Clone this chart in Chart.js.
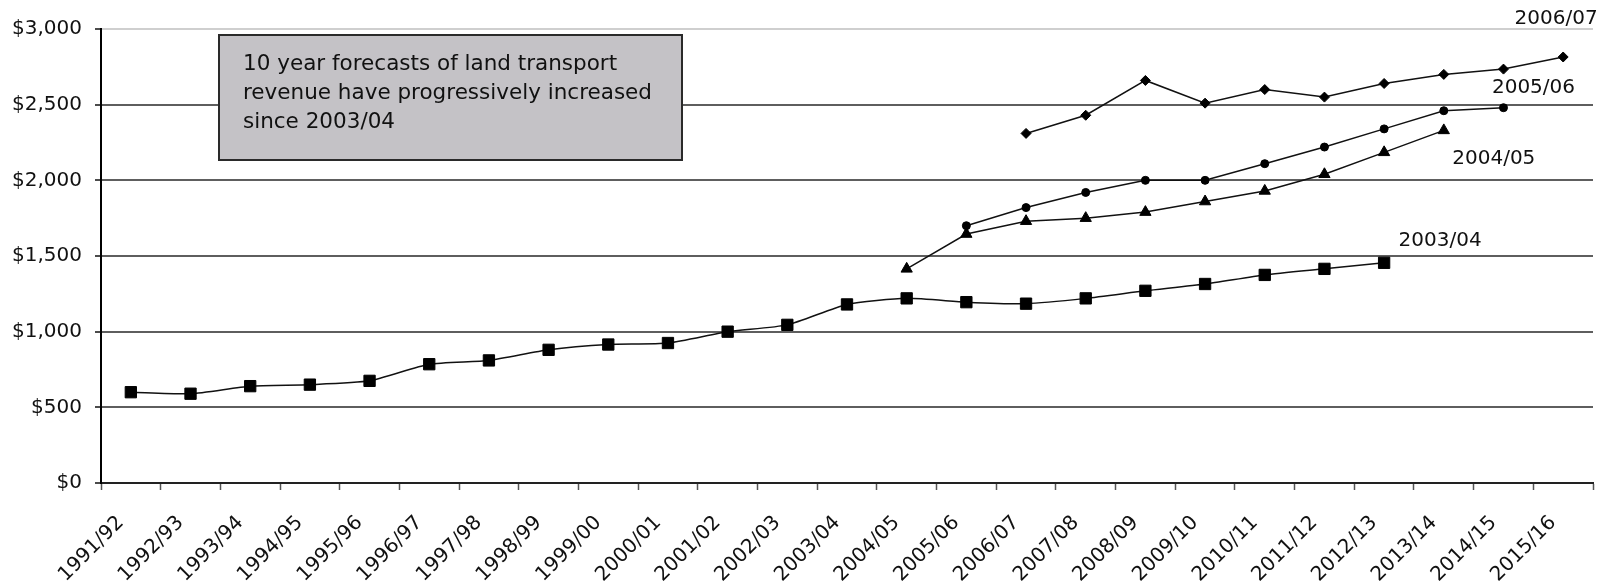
<!DOCTYPE html>
<html>
<head>
<meta charset="utf-8">
<script src="https://cdn.jsdelivr.net/npm/chart.js@4.4.1/dist/chart.umd.min.js"></script>
<style>
  html, body { margin: 0; padding: 0; background: #fff; }
  canvas { display: block; }
</style>
</head>
<body>
<canvas id="revenue" width="1602" height="584"></canvas>
<script>
const years = [
  '1991/92', '1992/93', '1993/94', '1994/95', '1995/96', '1996/97', '1997/98',
  '1998/99', '1999/00', '2000/01', '2001/02', '2002/03', '2003/04', '2004/05',
  '2005/06', '2006/07', '2007/08', '2008/09', '2009/10', '2010/11', '2011/12',
  '2012/13', '2013/14', '2014/15', '2015/16'
];

// actuals to 2003/04 then the 2003/04 forecast
const forecast0304 = [600, 590, 640, 650, 675, 785, 810, 880, 915, 925, 1000,
  1045, 1180, 1220, 1195, 1185, 1220, 1270, 1315, 1375, 1415, 1455];
const forecast0405 = [1415, 1645, 1730, 1750, 1790, 1860, 1930, 2040, 2185, 2330];
const forecast0506 = [1700, 1820, 1920, 2000, 2000, 2110, 2220, 2340, 2460, 2480];
const forecast0607 = [2310, 2430, 2660, 2510, 2600, 2550, 2640, 2700, 2735, 2815];

const yTicks = [0, 500, 1000, 1500, 2000, 2500, 3000];

const noteLines = [
  '10 year forecasts of land transport',
  'revenue have progressively increased',
  'since 2003/04'
];

// put a series on the year axis starting at its first year
function fromYear(first, values) {
  const start = years.indexOf(first);
  return years.map((_, i) => (i >= start && i < start + values.length) ? values[i - start] : null);
}

const INK = '#111';
const FONT = 'DejaVu Sans';

// label beside the last point of each series
const endLabels = {
  '2003/04': { dx: 56, dy: -22 },
  '2004/05': { dx: 50, dy: 28 },
  '2005/06': { dx: 30, dy: -20 },
  '2006/07': { dx: -7, dy: -38 }
};

const seriesLabels = {
  id: 'seriesLabels',
  afterDatasetsDraw(chart) {
    const ctx = chart.ctx;
    ctx.save();
    ctx.font = '20px "' + FONT + '"';
    ctx.fillStyle = INK;
    ctx.textAlign = 'center';
    ctx.textBaseline = 'middle';
    chart.data.datasets.forEach((ds, i) => {
      const meta = chart.getDatasetMeta(i);
      let last = -1;
      ds.data.forEach((v, j) => { if (v !== null) last = j; });
      const pt = meta.data[last];
      const off = endLabels[ds.label];
      ctx.fillText(ds.label, pt.x + off.dx, pt.y + off.dy);
    });
    ctx.restore();
  }
};

const noteBox = {
  id: 'noteBox',
  beforeDatasetsDraw(chart) {
    const ctx = chart.ctx;
    const a = chart.chartArea;
    const x = a.left + 118, y = a.top + 6, w = 463, h = 125;
    ctx.save();
    ctx.fillStyle = '#c4c2c6';
    ctx.fillRect(x, y, w, h);
    ctx.strokeStyle = '#2a2a2a';
    ctx.lineWidth = 2;
    ctx.strokeRect(x, y, w, h);
    ctx.fillStyle = INK;
    ctx.font = '21.5px "' + FONT + '"';
    ctx.textAlign = 'left';
    ctx.textBaseline = 'alphabetic';
    noteLines.forEach((t, i) => ctx.fillText(t, x + 24, y + 35 + i * 29));
    ctx.restore();
  }
};

new Chart(document.getElementById('revenue'), {
  type: 'line',
  data: {
    labels: years,
    datasets: [
      {
        label: '2003/04',
        data: fromYear('1991/92', forecast0304),
        pointStyle: 'rect', pointRadius: 8, tension: 0.2
      },
      {
        label: '2004/05',
        data: fromYear('2004/05', forecast0405),
        pointStyle: 'triangle', pointRadius: 6.5, tension: 0
      },
      {
        label: '2005/06',
        data: fromYear('2005/06', forecast0506),
        pointStyle: 'circle', pointRadius: 4, tension: 0
      },
      {
        label: '2006/07',
        data: fromYear('2006/07', forecast0607),
        pointStyle: 'rectRot', pointRadius: 5, tension: 0
      }
    ].map(d => Object.assign({
      borderColor: INK, backgroundColor: INK, borderWidth: 1.5,
      pointBackgroundColor: '#000', pointBorderColor: '#000', pointBorderWidth: 1,
      spanGaps: false
    }, d))
  },
  options: {
    responsive: false,
    animation: false,
    devicePixelRatio: 1,
    layout: { padding: { top: 29, left: 0, right: 0, bottom: 0 } },
    plugins: {
      legend: { display: false },
      tooltip: { enabled: false }
    },
    scales: {
      x: {
        offset: true,
        grid: {
          offset: true, drawOnChartArea: false, drawTicks: true,
          tickLength: 7, tickColor: '#555', tickWidth: 1.5
        },
        border: { display: true, color: '#222', width: 2 },
        ticks: {
          color: INK, font: { family: FONT, size: 20 },
          minRotation: 45, maxRotation: 45, autoSkip: false,
          padding: 21, labelOffset: -10
        },
        afterFit(s) { s.height = 101; }
      },
      y: {
        min: 0, max: 3000,
        afterBuildTicks(s) { s.ticks = yTicks.map(v => ({ value: v })); },
        grid: {
          color: c => (c.tick && c.tick.value === 3000) ? '#cfcfcf' : '#5e5e5e',
          lineWidth: 2,
          tickLength: 6, tickColor: '#111', tickWidth: 1.5
        },
        border: { display: true, color: '#000', width: 2 },
        ticks: {
          color: INK, font: { family: FONT, size: 20 }, padding: 13,
          callback: v => '$' + v.toLocaleString('en-US')
        },
        afterFit(s) { s.width = 101; }
      }
    }
  },
  plugins: [noteBox, seriesLabels]
});
</script>
</body>
</html>
